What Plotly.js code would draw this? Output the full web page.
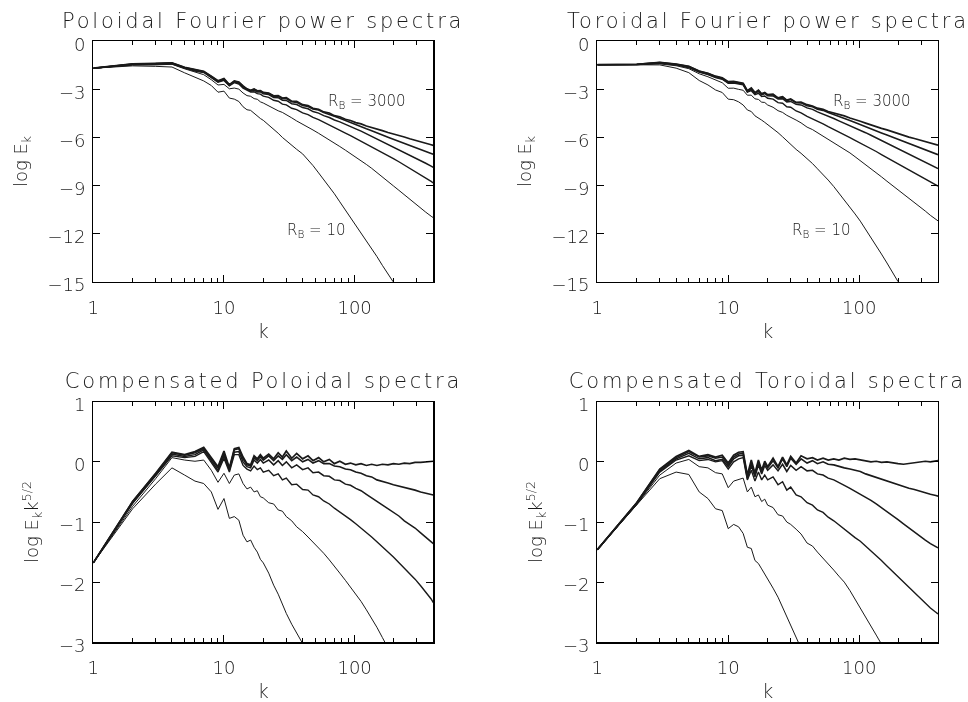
<!DOCTYPE html>
<html>
<head>
<meta charset="utf-8">
<script src="https://cdn.plot.ly/plotly-3.0.1.min.js"></script>
<style>
html,body{margin:0;padding:0;background:#fff;}
#chart{width:968px;height:702px;will-change:transform;}
#chart .annotation[data-index="0"] text,
#chart .annotation[data-index="1"] text,
#chart .annotation[data-index="2"] text,
#chart .annotation[data-index="3"] text{letter-spacing:2.8px;}
</style>
</head>
<body>
<div id="chart"></div>
<script>
// wavenumbers k (shared sampling grid)
const kGrid = [1,2,3,4,5,6,7,8,9,10,11,12,13,14,15,16,17,18,19,20,
  22,24,26,28,30,33,36,40,44,48,
  53,58,64,70,77,85,93,102,112,123,
  135,148,163,180,198,218,240,264,290,320,
  350,385,400];

// Magnetic Reynolds numbers of the runs
const rbValues = [3000, 1000, 300, 100, 30, 10];

// Compensated poloidal spectra  log(E_k k^{5/2})
const polComp3000 = [-1.68,-0.66,-0.19,0.16,0.12,0.17,0.24,0.08,-0.08,0.18,-0.10,0.22,0.24,0.08,-0.03,-0.05,0.10,0.05,0.12,0.06,
  0.13,0.05,0.15,0.08,0.18,0.06,0.14,0.05,0.10,0.02,
  0.07,0.00,0.04,-0.03,0.01,-0.04,-0.02,-0.05,-0.03,-0.06,
  -0.04,-0.06,-0.04,-0.05,-0.03,-0.04,-0.02,-0.03,-0.01,-0.01,
  0.00,0.01,0.01];
const polComp1000 = [-1.68,-0.66,-0.20,0.15,0.11,0.15,0.22,0.06,-0.10,0.14,-0.12,0.20,0.22,0.05,-0.05,-0.07,0.07,0.02,0.09,0.03,
  0.10,0.02,0.10,0.04,0.12,0.02,0.08,0.00,0.04,-0.02,
  0.02,-0.03,-0.03,-0.07,-0.08,-0.12,-0.13,-0.17,-0.19,-0.23,
  -0.25,-0.30,-0.32,-0.35,-0.38,-0.40,-0.43,-0.45,-0.47,-0.50,
  -0.52,-0.54,-0.55];
const polComp300 = [-1.68,-0.68,-0.22,0.13,0.09,0.12,0.20,0.03,-0.14,0.10,-0.14,0.16,0.17,0.00,-0.08,-0.10,0.03,-0.02,0.04,-0.02,
  0.03,-0.05,0.02,-0.06,0.00,-0.10,-0.05,-0.13,-0.10,-0.18,
  -0.17,-0.23,-0.24,-0.30,-0.31,-0.37,-0.39,-0.44,-0.48,-0.54,
  -0.60,-0.66,-0.72,-0.78,-0.84,-0.90,-0.98,-1.04,-1.10,-1.18,
  -1.25,-1.32,-1.36];
const polComp100 = [-1.68,-0.69,-0.23,0.10,0.07,0.09,0.17,0.00,-0.17,0.06,-0.17,0.12,0.12,-0.06,-0.12,-0.15,-0.07,-0.13,-0.10,-0.17,
  -0.14,-0.23,-0.20,-0.30,-0.27,-0.38,-0.37,-0.46,-0.47,-0.55,
  -0.58,-0.65,-0.70,-0.77,-0.83,-0.90,-0.96,-1.03,-1.10,-1.17,
  -1.25,-1.33,-1.42,-1.50,-1.58,-1.67,-1.77,-1.86,-1.95,-2.06,
  -2.16,-2.28,-2.34];
const polComp30 = [-1.68,-0.74,-0.28,0.07,0.03,0.01,0.03,-0.14,-0.34,-0.19,-0.36,-0.22,-0.20,-0.36,-0.45,-0.42,-0.50,-0.48,-0.58,-0.60,
  -0.68,-0.70,-0.80,-0.82,-0.91,-0.98,-1.08,-1.16,-1.25,-1.33,
  -1.43,-1.52,-1.63,-1.73,-1.85,-1.97,-2.08,-2.19,-2.32,-2.46,
  -2.60,-2.75,-2.92,-3.10,-3.28,-3.45,-3.63,-3.80,-3.98,-4.15,
  -4.30,-4.45,-4.50];
const polComp10 = [-1.68,-0.78,-0.37,-0.10,-0.22,-0.32,-0.36,-0.50,-0.79,-0.61,-0.94,-0.91,-0.97,-1.22,-1.33,-1.30,-1.42,-1.50,-1.62,-1.68,
  -1.85,-2.05,-2.20,-2.38,-2.52,-2.70,-2.85,-3.02,-3.28,-3.55,
  -3.90,-4.20,-4.55,-4.90,-5.30,-5.70,-6.05,-6.45,-6.85,-7.20,
  -7.60,-8.00,-8.45,-8.85,-9.25,-9.70,-10.20,-10.70,-11.20,-11.80,
  -12.30,-12.90,-13.10];

// Compensated toroidal spectra  log(E_k k^{5/2})
const torComp3000 = [-1.46,-0.68,-0.12,0.09,0.19,0.09,0.12,0.08,0.11,-0.02,0.11,0.16,0.17,-0.22,0.03,-0.19,0.03,-0.14,0.01,-0.08,
  0.06,-0.08,0.08,-0.05,0.09,-0.02,0.10,0.05,0.07,0.03,
  0.06,0.03,0.05,0.03,0.06,0.04,0.05,0.03,0.02,0.00,
  0.01,-0.01,0.00,-0.02,-0.03,-0.04,-0.03,-0.01,0.00,0.01,
  0.00,0.02,0.02];
const torComp1000 = [-1.46,-0.68,-0.13,0.07,0.17,0.08,0.10,0.06,0.08,-0.05,0.08,0.13,0.14,-0.25,-0.02,-0.22,0.00,-0.17,-0.02,-0.10,
  0.02,-0.10,0.05,-0.08,0.06,-0.04,0.05,-0.02,0.02,-0.03,
  0.00,-0.04,-0.05,-0.08,-0.10,-0.12,-0.14,-0.16,-0.20,-0.23,
  -0.26,-0.29,-0.32,-0.35,-0.38,-0.41,-0.44,-0.46,-0.49,-0.51,
  -0.54,-0.56,-0.57];
const torComp300 = [-1.46,-0.69,-0.15,0.05,0.14,0.05,0.07,0.02,0.04,-0.08,0.05,0.10,0.11,-0.28,-0.06,-0.25,-0.05,-0.20,-0.06,-0.14,
  -0.05,-0.15,-0.04,-0.16,-0.06,-0.14,-0.08,-0.15,-0.14,-0.20,
  -0.22,-0.27,-0.30,-0.35,-0.39,-0.44,-0.49,-0.53,-0.58,-0.64,
  -0.70,-0.76,-0.83,-0.90,-0.96,-1.03,-1.10,-1.16,-1.23,-1.30,
  -1.36,-1.41,-1.43];
const torComp100 = [-1.46,-0.70,-0.17,0.03,0.10,0.02,0.04,0.00,0.02,-0.12,0.00,0.05,0.07,-0.30,-0.14,-0.32,-0.17,-0.30,-0.22,-0.30,
  -0.25,-0.38,-0.33,-0.47,-0.42,-0.55,-0.58,-0.68,-0.72,-0.80,
  -0.84,-0.92,-0.98,-1.05,-1.12,-1.19,-1.26,-1.32,-1.40,-1.48,
  -1.55,-1.64,-1.73,-1.82,-1.91,-2.00,-2.09,-2.18,-2.26,-2.35,
  -2.43,-2.50,-2.53];
const torComp30 = [-1.46,-0.71,-0.22,-0.02,0.04,-0.08,-0.10,-0.18,-0.20,-0.43,-0.32,-0.30,-0.27,-0.50,-0.42,-0.58,-0.55,-0.66,-0.62,-0.72,
  -0.76,-0.88,-0.90,-1.00,-1.04,-1.12,-1.20,-1.35,-1.40,-1.50,
  -1.60,-1.70,-1.80,-1.90,-2.00,-2.14,-2.28,-2.42,-2.57,-2.73,
  -2.88,-3.03,-3.20,-3.36,-3.52,-3.68,-3.85,-4.00,-4.16,-4.33,
  -4.50,-4.65,-4.70];
const torComp10 = [-1.46,-0.72,-0.28,-0.17,-0.21,-0.50,-0.61,-0.78,-0.81,-1.11,-1.04,-1.08,-1.19,-1.42,-1.44,-1.64,-1.69,-1.78,-1.86,-1.94,
  -2.10,-2.25,-2.42,-2.60,-2.75,-2.95,-3.10,-3.30,-3.52,-3.75,
  -4.00,-4.25,-4.55,-4.85,-5.20,-5.55,-5.85,-6.20,-6.60,-7.00,
  -7.40,-7.85,-8.30,-8.75,-9.25,-9.75,-10.30,-10.80,-11.35,-11.90,
  -12.45,-13.00,-13.25];

// axis ticks
const xTickVals = [1, 10, 100];
const xTickText = ['1', '10', '100'];
const xMinorVals = [2,3,4,5,6,7,8,9,20,30,40,50,60,70,80,90,200,300];
const kMax = 400;
const yTopTicks = [0, -3, -6, -9, -12, -15];
const yBotTicks = [1, 0, -1, -2, -3];

const panelTitles = ['Poloidal Fourier power spectra', 'Toroidal Fourier power spectra',
                     'Compensated Poloidal spectra', 'Compensated Toroidal spectra'];

const polSeries = [polComp3000, polComp1000, polComp300, polComp100, polComp30, polComp10];
const torSeries = [torComp3000, torComp1000, torComp300, torComp100, torComp30, torComp10];

// log E_k = log(E_k k^{5/2}) - 2.5 log k
function uncompensate(arr){ return arr.map((v,i) => v - 2.5*Math.log10(kGrid[i])); }

const widths = [1.7, 1.6, 1.5, 1.4, 1.0, 1.0];
const lineColor = '#1a1a1a';
const traces = [];
function addSet(series, xa, ya, transform){
  series.forEach((s, j) => {
    traces.push({
      type: 'scatter', mode: 'lines',
      x: kGrid, y: transform ? uncompensate(s) : s,
      xaxis: xa, yaxis: ya,
      name: 'R_B = ' + rbValues[j],
      line: {color: lineColor, width: widths[j]},
      hoverinfo: 'skip', showlegend: false
    });
  });
}
addSet(polSeries, 'x', 'y', true);
addSet(torSeries, 'x2', 'y2', true);
addSet(polSeries, 'x3', 'y3', false);
addSet(torSeries, 'x4', 'y4', false);

const W = 968, H = 702;
const FONT = 'DejaVu Sans, Verdana, sans-serif';
const TXT = '#1a1a1a';
const pxX = x => x / W;
const pxY = y => 1 - y / H;
const tickFont = {family: FONT, size: 18, color: TXT, weight: 200};
const titleFont = {family: FONT, size: 21, color: TXT, weight: 200};
const labelFont = {family: FONT, size: 15, color: TXT, weight: 200};

function xAxis(domL, domR, anchor, st){
  return {
    type: 'log', range: [0, Math.log10(kMax)], domain: [pxX(domL), pxX(domR)], anchor: anchor,
    tickmode: 'array', tickvals: xTickVals, ticktext: xTickText,
    ticks: 'inside', ticklen: 7, tickwidth: 1, tickcolor: '#000',
    minor: {tickmode: 'array', tickvals: xMinorVals, ticks: 'inside', ticklen: 4, tickwidth: 1, tickcolor: '#000', showgrid: false},
    showline: true, linecolor: '#000', linewidth: 1.2, mirror: 'ticks',
    showgrid: false, zeroline: false,
    tickfont: tickFont,
    ticklabelstandoff: 9,
    title: {text: 'k', font: {family: FONT, size: 19, color: TXT, weight: 200}, standoff: st}
  };
}
function yAxis(domB, domT, anchor, rng, tv, title, st){
  return {
    range: rng, domain: [pxY(domB), pxY(domT)], anchor: anchor,
    tickmode: 'array', tickvals: tv,
    ticks: 'inside', ticklen: 7, tickwidth: 1, tickcolor: '#000',
    showline: true, linecolor: '#000', linewidth: 1.2, mirror: 'ticks',
    showgrid: false, zeroline: false,
    tickfont: tickFont,
    ticklabelstandoff: 3,
    ticklabelshift: 3,
    title: {text: title, font: {family: FONT, size: 18, color: TXT, weight: 200}, standoff: st}
  };
}

const yTitleTop = 'log E<sub>k</sub>';
const yTitleBot = 'log E<sub>k</sub>k<sup>5/2</sup>';

const titleY1 = 20.5, titleY2 = 380.5;
const layout = {
  width: W, height: H,
  margin: {l: 0, r: 0, t: 0, b: 0},
  paper_bgcolor: '#fff', plot_bgcolor: '#fff',
  showlegend: false,
  xaxis:  xAxis(93.3, 433.3, 'y', 8),
  xaxis2: xAxis(597.3, 938, 'y2', 8),
  xaxis3: xAxis(93.3, 433.3, 'y3', 10),
  xaxis4: xAxis(597.3, 938, 'y4', 10),
  yaxis:  yAxis(281.7, 41.3, 'x', [-15, 0], yTopTicks, yTitleTop, 15),
  yaxis2: yAxis(281.7, 41.3, 'x2', [-15, 0], yTopTicks, yTitleTop, 15),
  yaxis3: yAxis(642.3, 401.7, 'x3', [-3, 1], yBotTicks, yTitleBot, 15),
  yaxis4: yAxis(642.3, 401.7, 'x4', [-3, 1], yBotTicks, yTitleBot, 15),
  annotations: [
    {text: panelTitles[0], xref: 'paper', yref: 'paper', x: pxX(263), y: pxY(titleY1), xanchor: 'center', yanchor: 'middle', showarrow: false, borderpad: 0, font: titleFont},
    {text: panelTitles[1], xref: 'paper', yref: 'paper', x: pxX(767.7), y: pxY(titleY1), xanchor: 'center', yanchor: 'middle', showarrow: false, borderpad: 0, font: titleFont},
    {text: panelTitles[2], xref: 'paper', yref: 'paper', x: pxX(263), y: pxY(titleY2), xanchor: 'center', yanchor: 'middle', showarrow: false, borderpad: 0, font: titleFont},
    {text: panelTitles[3], xref: 'paper', yref: 'paper', x: pxX(767.7), y: pxY(titleY2), xanchor: 'center', yanchor: 'middle', showarrow: false, borderpad: 0, font: titleFont},
    {text: 'R<sub>B</sub> = ' + rbValues[0], xref: 'x', yref: 'y', x: 1.783, y: -3.75, xanchor: 'left', yanchor: 'middle', showarrow: false, font: labelFont},
    {text: 'R<sub>B</sub> = ' + rbValues[5], xref: 'x', yref: 'y', x: 1.469, y: -11.8, xanchor: 'left', yanchor: 'middle', showarrow: false, font: labelFont},
    {text: 'R<sub>B</sub> = ' + rbValues[0], xref: 'x2', yref: 'y2', x: 1.788, y: -3.75, xanchor: 'left', yanchor: 'middle', showarrow: false, font: labelFont},
    {text: 'R<sub>B</sub> = ' + rbValues[5], xref: 'x2', yref: 'y2', x: 1.469, y: -11.8, xanchor: 'left', yanchor: 'middle', showarrow: false, font: labelFont}
  ]
};

Plotly.newPlot('chart', traces, layout, {staticPlot: true, displayModeBar: false});
</script>
</body>
</html>
